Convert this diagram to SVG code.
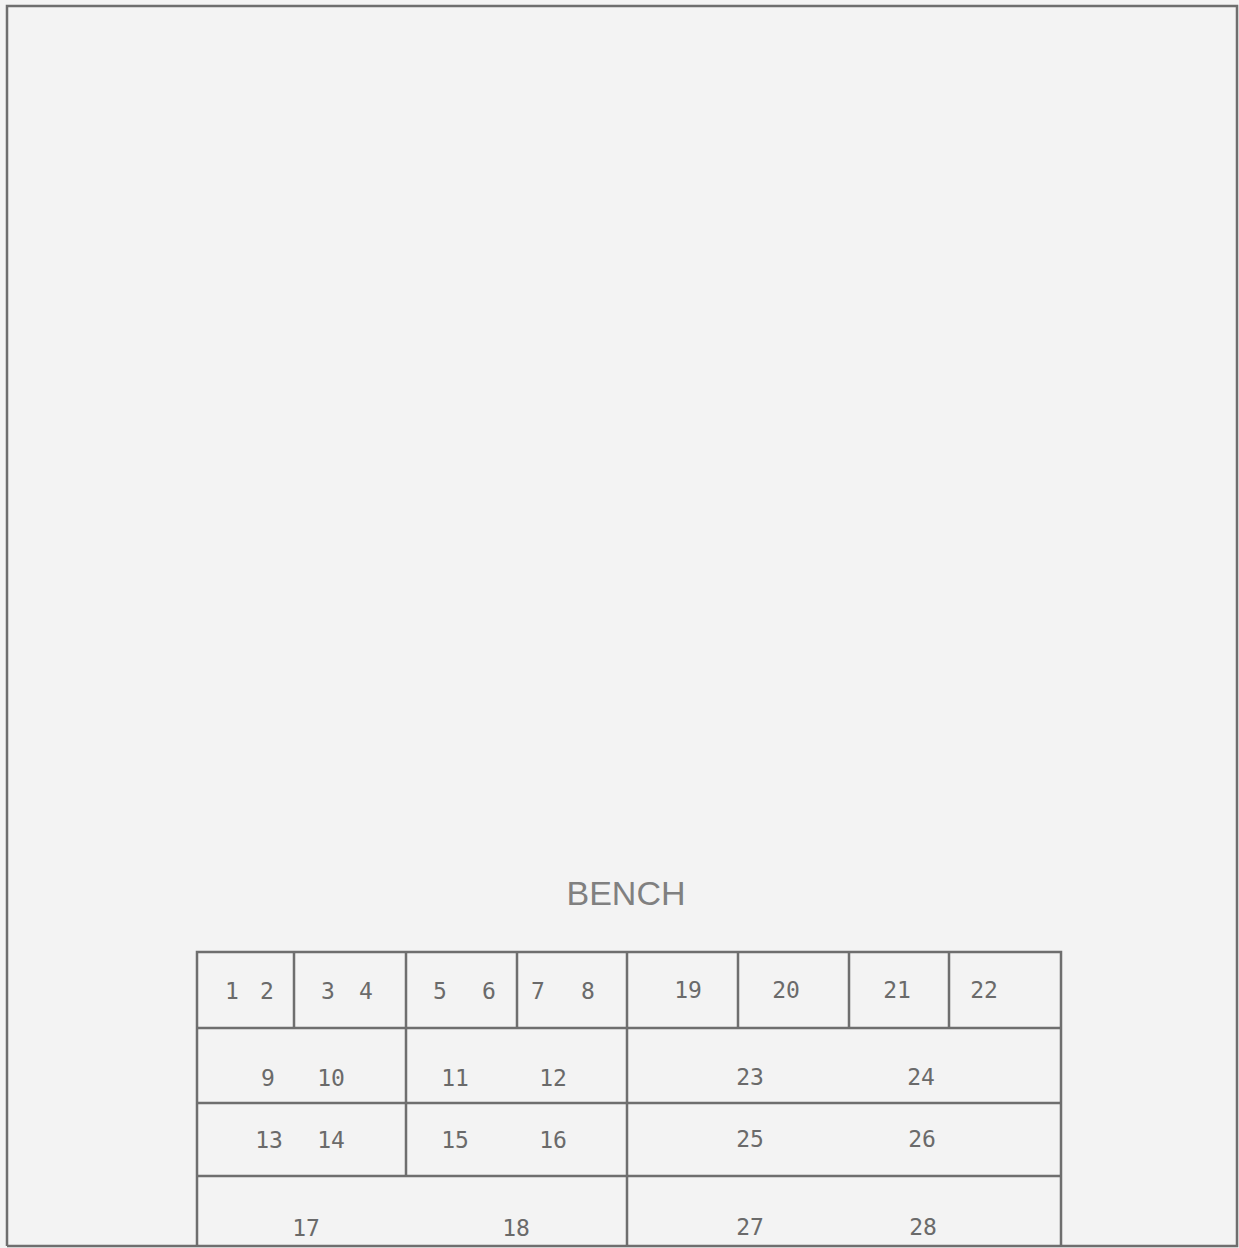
<svg xmlns="http://www.w3.org/2000/svg" width="1239" height="1248" viewBox="0 0 1239 1248">
<style>
.ln{stroke:#6e6e6e;stroke-width:2.5;fill:none}
.n{font-family:"DejaVu Sans Mono","Liberation Mono",monospace;font-size:23px;fill:#6a6a6a;text-anchor:middle}
.t{font-family:"Liberation Sans",Arial,sans-serif;font-size:34px;fill:#808080;text-anchor:middle}
</style>
<rect x="0" y="0" width="1239" height="1248" fill="#f3f3f3"/>
<g id="frame"><path class="ln" d="M7 1246 V6 H1237 V1246 H7"/></g>
<text id="title" class="t" x="626" y="905">BENCH</text>
<g id="connectors">
<path class="ln" d="M197 1246 V952 H1061 V1246"/>
<path class="ln" d="M197 1028 H1061 M197 1103 H1061 M197 1176 H1061"/>
<path class="ln" d="M294 952 V1028 M517 952 V1028 M738 952 V1028 M849 952 V1028 M949 952 V1028"/>
<path class="ln" d="M406 952 V1176 M627 952 V1246"/>
</g>
<g id="row1">
<text class="n" x="232" y="999">1</text><text class="n" x="267" y="999">2</text>
<text class="n" x="328" y="999">3</text><text class="n" x="366" y="999">4</text>
<text class="n" x="440" y="999">5</text><text class="n" x="489" y="999">6</text>
<text class="n" x="538" y="999">7</text><text class="n" x="588" y="999">8</text>
<text class="n" x="688" y="998">19</text><text class="n" x="786" y="998">20</text>
<text class="n" x="897" y="998">21</text><text class="n" x="984" y="998">22</text>
</g>
<g id="row2">
<text class="n" x="268" y="1086">9</text><text class="n" x="331" y="1086">10</text>
<text class="n" x="455" y="1086">11</text><text class="n" x="553" y="1086">12</text>
<text class="n" x="750" y="1085">23</text><text class="n" x="921" y="1085">24</text>
</g>
<g id="row3">
<text class="n" x="269" y="1148">13</text><text class="n" x="331" y="1148">14</text>
<text class="n" x="455" y="1148">15</text><text class="n" x="553" y="1148">16</text>
<text class="n" x="750" y="1147">25</text><text class="n" x="922" y="1147">26</text>
</g>
<g id="row4">
<text class="n" x="306" y="1236">17</text><text class="n" x="516" y="1236">18</text>
<text class="n" x="750" y="1235">27</text><text class="n" x="923" y="1235">28</text>
</g>
</svg>
